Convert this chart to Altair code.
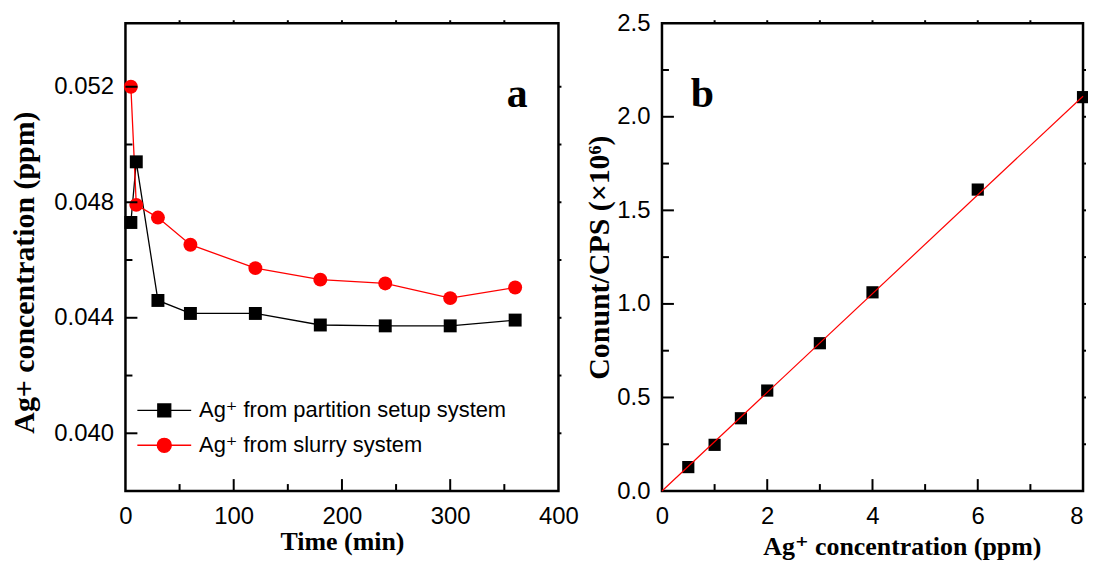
import altair as alt
import pandas as pd

# ---------------- data ----------------
time_min = [5, 10, 30, 60, 120, 180, 240, 300, 360]
partition_ppm = [0.0473, 0.0494, 0.0446, 0.04415, 0.04415, 0.04375, 0.04372, 0.04372, 0.04392]
slurry_ppm = [0.0520, 0.04791, 0.04747, 0.04653, 0.04572, 0.04532, 0.04519, 0.04468, 0.04505]
series_names = ["Ag\u207a from partition setup system", "Ag\u207a from slurry system"]
series_colors = ["black", "red"]

std_conc = [0.5, 1, 1.5, 2, 3, 4, 6, 8]
std_cps = [0.128, 0.247, 0.389, 0.537, 0.79, 1.062, 1.611, 2.105]
fit_conc = [0, 8]
fit_cps = [0, 2.11]

# tick positions
a_x_labels = [0, 100, 200, 300, 400]
a_x_major_in = [100, 200, 300]
a_x_minor_in = [50, 150, 250, 350]
a_x_top = [50, 100, 150, 200, 250, 300, 350]
a_y_labels = [0.040, 0.044, 0.048, 0.052]
a_y_minor_in = [0.042, 0.046, 0.050]
a_y_right = [0.040, 0.042, 0.044, 0.046, 0.048, 0.050, 0.052]

b_x_labels = [0, 2, 4, 6, 8]
b_x_major_in = [2, 4, 6]
b_x_minor_in = [1, 3, 5, 7]
b_x_top = [1, 2, 3, 4, 5, 6, 7]
b_y_labels = [0.0, 0.5, 1.0, 1.5, 2.0, 2.5]
b_y_major_in = [0.5, 1.0, 1.5, 2.0]
b_y_minor_in = [0.25, 0.75, 1.25, 1.75, 2.25]
b_y_right = [0.25, 0.5, 0.75, 1.0, 1.25, 1.5, 1.75, 2.0, 2.25]

panel_labels = ["a", "b"]

# ---------------- layout constants ----------------
WA, HA = 435, 470
WB, HB = 423, 470
MAJ, MIN, OUT = 12, 7, 3
SANS = "Liberation Sans, DejaVu Sans, sans-serif"
SERIF = "Liberation Serif, DejaVu Serif, serif"

xa = alt.Scale(domain=[0, 400], nice=False, zero=False)
ya = alt.Scale(domain=[0.038, 0.0542], nice=False, zero=False)
xb = alt.Scale(domain=[0, 8], nice=False, zero=False)
yb = alt.Scale(domain=[0, 2.5], nice=False, zero=False)

x_axis_a = alt.Axis(values=a_x_labels, title="Time (min)", ticks=False, domain=False,
                    grid=False, format="d", labelPadding=14, titlePadding=0, labelFlush=False)
y_axis_a = alt.Axis(values=a_y_labels, title="Ag+ concentration (ppm)", ticks=False,
                    domain=False, grid=False, format=".3f", labelPadding=12, titlePadding=14,
                    labelFlush=False, titleFontSize=30, titleY=250)
x_axis_b = alt.Axis(values=b_x_labels, title="Ag\u207a concentration (ppm)", ticks=False,
                    domain=False, grid=False, format="d", labelPadding=14, titlePadding=5,
                    titleX=241, labelFlush=False,
                    labelAlign={"condition": {"test": "datum.value >= 8", "value": "right"},
                                "value": "center"})
y_axis_b = alt.Axis(values=b_y_labels, title="Conunt/CPS  (\u00d710\u2076)", ticks=False,
                    domain=False, grid=False, format=".1f", labelPadding=12, titlePadding=2,
                    labelFlush=False, titleFontSize=30)


def xticks(vals, scale, axis, y0, y1):
    return alt.Chart(pd.DataFrame({"v": vals})).mark_rule(
        color="black", strokeWidth=2
    ).encode(x=alt.X("v:Q", scale=scale, axis=axis), y=alt.value(y0), y2=alt.value(y1))


def yticks(vals, scale, axis, x0, x1):
    return alt.Chart(pd.DataFrame({"v": vals})).mark_rule(
        color="black", strokeWidth=2
    ).encode(y=alt.Y("v:Q", scale=scale, axis=axis), x=alt.value(x0), x2=alt.value(x1))


# ---------------- panel a ----------------
df_part = pd.DataFrame({"t": time_min, "c": partition_ppm})
df_slur = pd.DataFrame({"t": time_min, "c": slurry_ppm})


def enc_a(ch):
    return ch.encode(x=alt.X("t:Q", scale=xa, axis=x_axis_a),
                     y=alt.Y("c:Q", scale=ya, axis=y_axis_a))


line_part = enc_a(alt.Chart(df_part).mark_line(color="black", strokeWidth=1.3))
pts_part = enc_a(alt.Chart(df_part).mark_point(shape="square", filled=True, size=169,
                                               color="black", opacity=1))
line_slur = enc_a(alt.Chart(df_slur).mark_line(color="red", strokeWidth=1.3))
pts_slur = enc_a(alt.Chart(df_slur).mark_point(shape="circle", filled=True, size=196,
                                               color="red", opacity=1))

# legend symbols: a line through the marker (symbol unit = 13 px)
sq_path = "M-2.08,0H2.08M-0.5,-0.5H0.5V0.5H-0.5Z"
ci_path = "M-2.08,0H2.08M-0.54,0A0.54,0.54,0,1,1,0.54,0A0.54,0.54,0,1,1,-0.54,0Z"
leg = alt.Legend(title=None, orient="none", legendX=25, legendY=375,
                 symbolSize=676, symbolStrokeWidth=1.3, symbolOpacity=1,
                 labelFont=SANS, labelFontSize=22, labelColor="black",
                 labelOffset=21, labelLimit=500, rowPadding=10, padding=0)
legend_layer = alt.Chart(pd.DataFrame({"series": series_names})).mark_point(
    filled=True, opacity=0
).encode(
    color=alt.Color("series:N", scale=alt.Scale(domain=series_names, range=series_colors),
                    legend=leg),
    shape=alt.Shape("series:N", scale=alt.Scale(domain=series_names, range=[sq_path, ci_path]),
                    legend=leg),
    stroke=alt.Stroke("series:N", scale=alt.Scale(domain=series_names, range=series_colors),
                      legend=leg),
)

label_a = alt.Chart(pd.DataFrame({"x": [362], "y": [0.0513], "lab": [panel_labels[0]]})).mark_text(
    font=SERIF, fontSize=42, fontWeight="bold", color="black", baseline="alphabetic", align="center"
).encode(x=alt.X("x:Q", scale=xa, axis=x_axis_a), y=alt.Y("y:Q", scale=ya, axis=y_axis_a),
         text="lab:N")

panel_a = alt.layer(
    line_part, line_slur, pts_part, pts_slur, label_a, legend_layer,
    xticks(a_x_major_in, xa, x_axis_a, HA, HA - MAJ), xticks(a_x_minor_in, xa, x_axis_a, HA, HA - MIN),
    xticks(a_x_top, xa, x_axis_a, 0, -OUT),
    yticks(a_y_labels, ya, y_axis_a, 0, MAJ), yticks(a_y_minor_in, ya, y_axis_a, 0, MIN),
    yticks(a_y_right, ya, y_axis_a, WA, WA + OUT),
).properties(width=WA, height=HA)

# ---------------- panel b ----------------
df_std = pd.DataFrame({"x": std_conc, "y": std_cps})
df_fit = pd.DataFrame({"x": fit_conc, "y": fit_cps})


def enc_b(ch):
    return ch.encode(x=alt.X("x:Q", scale=xb, axis=x_axis_b),
                     y=alt.Y("y:Q", scale=yb, axis=y_axis_b))


pts_std = enc_b(alt.Chart(df_std).mark_point(shape="square", filled=True, size=150,
                                             color="black", opacity=1))
line_fit = enc_b(alt.Chart(df_fit).mark_line(color="red", strokeWidth=1.2))

label_b = alt.Chart(pd.DataFrame({"x": [0.77], "y": [2.05], "lab": [panel_labels[1]]})).mark_text(
    font=SERIF, fontSize=42, fontWeight="bold", color="black", baseline="alphabetic", align="center"
).encode(x=alt.X("x:Q", scale=xb, axis=x_axis_b), y=alt.Y("y:Q", scale=yb, axis=y_axis_b),
         text="lab:N")

panel_b = alt.layer(
    pts_std, line_fit, label_b,
    xticks(b_x_major_in, xb, x_axis_b, HB, HB - MAJ), xticks(b_x_minor_in, xb, x_axis_b, HB, HB - MIN),
    xticks(b_x_top, xb, x_axis_b, 0, -OUT),
    yticks(b_y_major_in, yb, y_axis_b, 0, MAJ), yticks(b_y_minor_in, yb, y_axis_b, 0, MIN),
    yticks(b_y_right, yb, y_axis_b, WB, WB + OUT),
).properties(width=WB, height=HB)

chart = alt.hconcat(panel_a, panel_b, spacing=104, bounds="flush").properties(
    padding={"left": 0, "top": 0, "right": -3, "bottom": 0}
).configure_view(
    stroke="black", strokeWidth=2.5
).configure_axis(
    labelFont=SANS, labelFontSize=24, labelColor="black",
    titleFont=SERIF, titleFontWeight="bold", titleColor="black",
).configure_axisX(titleFontSize=26).configure_axisY(titleFontSize=28)

chart.save("out.html", embed_options={"renderer": "svg", "actions": False})
